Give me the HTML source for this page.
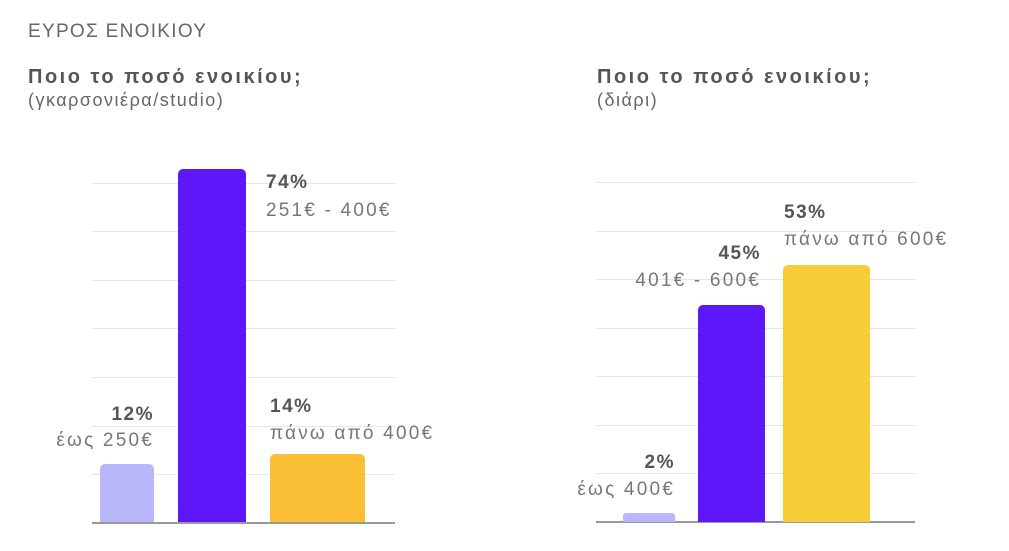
<!DOCTYPE html>
<html><head><meta charset="utf-8"><style>
body{margin:0;width:1009px;height:551px;background:#fff;position:relative;overflow:hidden;font-family:"Liberation Sans","DejaVu Sans",sans-serif;color:#666}
.a{position:absolute;white-space:nowrap}
.g{position:absolute;height:1px;background:#e6e6e6}
.b{position:absolute;border-radius:5px 5px 0 0}
.p{font-weight:bold;font-size:19px;color:#555;letter-spacing:1.5px}
.l{font-size:19px;color:#777;letter-spacing:2.2px}
.r{text-align:right}
</style></head><body>
<div class="a" style="left:28px;top:21px;font-size:19px;letter-spacing:1.3px">ΕΥΡΟΣ ΕΝΟΙΚΙΟΥ</div>
<div class="a" style="left:28px;top:66px;font-size:20px;font-weight:bold;color:#555;letter-spacing:2.5px">Ποιο το ποσό ενοικίου;</div>
<div class="a" style="left:28px;top:90px;font-size:18px;color:#666;letter-spacing:1.5px">(γκαρσονιέρα/studio)</div>
<div class="a" style="left:597px;top:66px;font-size:20px;font-weight:bold;color:#555;letter-spacing:2.5px">Ποιο το ποσό ενοικίου;</div>
<div class="a" style="left:597px;top:90px;font-size:18px;color:#666;letter-spacing:1.5px">(διάρι)</div>

<div class="g" style="left:92px;width:303px;top:183px"></div>
<div class="g" style="left:92px;width:303px;top:231px"></div>
<div class="g" style="left:92px;width:303px;top:280px"></div>
<div class="g" style="left:92px;width:303px;top:328px"></div>
<div class="g" style="left:92px;width:303px;top:377px"></div>
<div class="g" style="left:92px;width:303px;top:426px"></div>
<div class="g" style="left:92px;width:303px;top:474px"></div>
<div class="g" style="left:92px;width:303px;top:522px;background:#999;height:2px"></div>
<div class="b" style="left:100px;width:54px;top:464px;height:58px;background:#b9b6fb"></div>
<div class="b" style="left:178px;width:68px;top:169px;height:353px;background:#5e17f8"></div>
<div class="b" style="left:270px;width:95px;top:454px;height:68px;background:#fbbf35"></div>
<div class="a p" style="left:266px;top:172px">74%</div>
<div class="a l" style="left:266px;top:200px">251€ - 400€</div>
<div class="a p r" style="right:855px;top:404px">12%</div>
<div class="a l r" style="right:855px;top:430px">έως 250€</div>
<div class="a p" style="left:270px;top:396px">14%</div>
<div class="a l" style="left:270px;top:423px">πάνω από 400€</div>

<div class="g" style="left:596px;width:319px;top:182px"></div>
<div class="g" style="left:596px;width:319px;top:231px"></div>
<div class="g" style="left:596px;width:319px;top:279px"></div>
<div class="g" style="left:596px;width:319px;top:328px"></div>
<div class="g" style="left:596px;width:319px;top:376px"></div>
<div class="g" style="left:596px;width:319px;top:425px"></div>
<div class="g" style="left:596px;width:319px;top:473px"></div>
<div class="g" style="left:596px;width:319px;top:521px;background:#999;height:2px"></div>
<div class="b" style="left:623px;width:52px;top:513px;height:9px;background:#b9b6fb;border-radius:3px 3px 0 0"></div>
<div class="b" style="left:698px;width:67px;top:305px;height:217px;background:#5e17f8"></div>
<div class="b" style="left:783px;width:87px;top:265px;height:257px;background:#f6cd39"></div>
<div class="a p r" style="right:334px;top:452px">2%</div>
<div class="a l r" style="right:334px;top:479px">έως 400€</div>
<div class="a p r" style="right:248px;top:243px">45%</div>
<div class="a l r" style="right:248px;top:270px">401€ - 600€</div>
<div class="a p" style="left:784px;top:202px">53%</div>
<div class="a l" style="left:784px;top:229px">πάνω από 600€</div>
</body></html>
